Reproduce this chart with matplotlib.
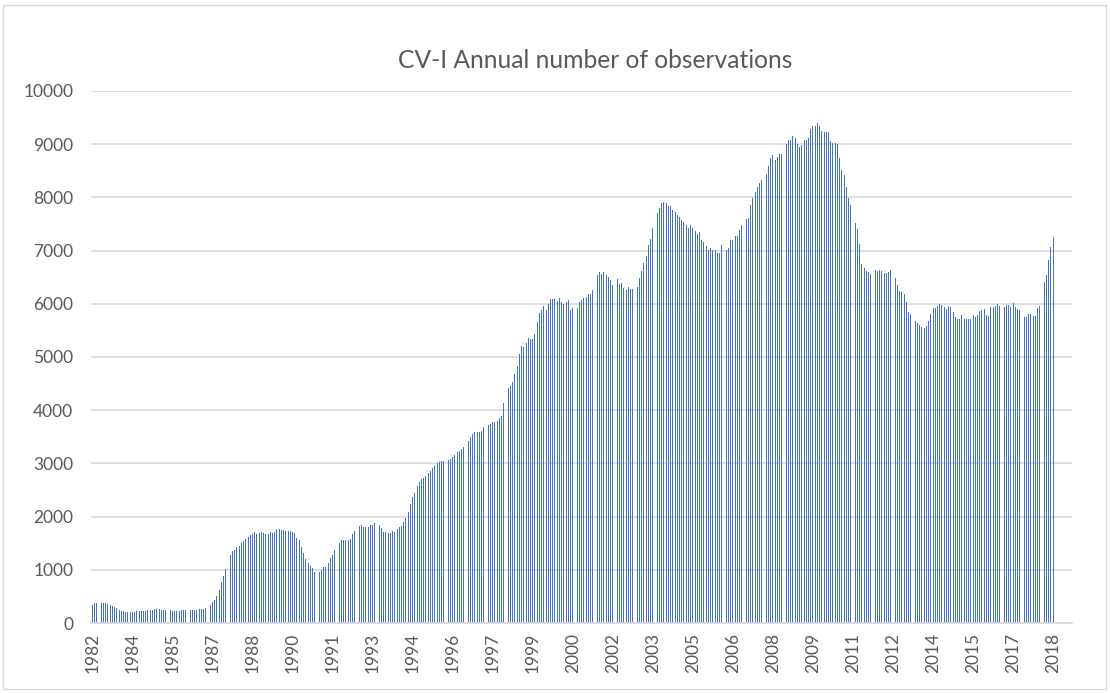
import matplotlib.pyplot as plt
from matplotlib.patches import Rectangle

# rolling annual counts, one value per month starting Dec 1982
counts = [
    340, 370, 370, 370, 370, 370, 370, 356, 343, 320, 300, 275,
    250, 231, 225, 212, 206, 206, 206, 212, 219, 231, 231, 231,
    231, 237, 250, 250, 256, 256, 256, 250, 237, 237, 237, 237,
    231, 231, 225, 231, 237, 237, 237, 244, 250, 250, 250, 250,
    256, 256, 269, 287, 319, 344, 394, 425, 500, 625, 762, 875,
    1019, 1144, 1287, 1350, 1381, 1425, 1450, 1512, 1550, 1575, 1625, 1650,
    1675, 1706, 1675, 1694, 1719, 1700, 1675, 1675, 1719, 1694, 1712, 1769,
    1769, 1750, 1750, 1725, 1725, 1725, 1712, 1700, 1594, 1562, 1437, 1325,
    1200, 1137, 1075, 1031, 962, 937, 962, 987, 1050, 1050, 1125, 1219,
    1281, 1375, 1462, 1512, 1562, 1562, 1562, 1562, 1575, 1669, 1737, 1775,
    1825, 1844, 1806, 1800, 1812, 1837, 1850, 1875, 1875, 1850, 1787, 1712,
    1706, 1700, 1700, 1737, 1719, 1762, 1800, 1825, 1900, 1975, 2094, 2237,
    2362, 2450, 2575, 2656, 2700, 2731, 2762, 2825, 2862, 2906, 2950, 3000,
    3025, 3050, 3050, 3037, 3062, 3087, 3112, 3150, 3212, 3225, 3275, 3312,
    3344, 3412, 3500, 3550, 3587, 3587, 3587, 3612, 3690, 3719, 3731, 3750,
    3769, 3781, 3800, 3850, 3900, 4144, 4331, 4425, 4456, 4525, 4675, 4825,
    5062, 5200, 5187, 5269, 5362, 5337, 5337, 5425, 5656, 5831, 5875, 5962,
    5875, 5987, 6094, 6094, 6094, 6050, 6100, 6037, 6000, 6025, 6062, 5887,
    5925, 5887, 5925, 6025, 6062, 6112, 6125, 6175, 6175, 6250, 6275, 6537,
    6600, 6562, 6600, 6544, 6512, 6450, 6362, 6450, 6469, 6375, 6387, 6300,
    6250, 6312, 6269, 6269, 6237, 6325, 6487, 6612, 6762, 6906, 7112, 7219,
    7425, 7594, 7700, 7800, 7894, 7906, 7894, 7831, 7844, 7769, 7720, 7665,
    7640, 7567, 7536, 7474, 7417, 7474, 7430, 7368, 7305, 7349, 7205, 7162,
    7081, 7019, 7056, 7019, 7006, 6956, 6956, 7100, 7037, 7019, 7056, 7193,
    7205, 7280, 7268, 7380, 7480, 7530, 7592, 7617, 7866, 7991, 8096, 8190,
    8277, 8327, 8389, 8439, 8588, 8738, 8800, 8700, 8750, 8825, 8825, 8950,
    9012, 9087, 9087, 9149, 9124, 9000, 8950, 8987, 9087, 9074, 9112, 9280,
    9349, 9336, 9405, 9349, 9249, 9236, 9236, 9224, 9062, 9025, 9031, 9012,
    8738, 8514, 8420, 8190, 7984, 7866, 7766, 7517, 7405, 7131, 6750, 6680,
    6620, 6600, 6569, 6656, 6644, 6612, 6631, 6625, 6581, 6581, 6600, 6631,
    6612, 6487, 6350, 6244, 6225, 6181, 6037, 5850, 5800, 5694, 5681, 5631,
    5594, 5556, 5537, 5581, 5681, 5800, 5912, 5912, 5956, 5987, 5969, 5931,
    5906, 5950, 5944, 5850, 5756, 5706, 5706, 5787, 5706, 5706, 5706, 5712,
    5787, 5756, 5787, 5862, 5881, 5894, 5787, 5769, 5931, 5931, 5962, 5987,
    5956, 5944, 5944, 5969, 5981, 5944, 6019, 5944, 5894, 5881, 5806, 5744,
    5744, 5806, 5806, 5769, 5775, 5912, 5956, 6162, 6412, 6550, 6831, 7069,
    7256,
]

# axis labels shown every 18 months
tick_labels = ["1982", "1984", "1985", "1987", "1988", "1990", "1991", "1993",
               "1994", "1996", "1997", "1999", "2000", "2002", "2003", "2005",
               "2006", "2008", "2009", "2011", "2012", "2014", "2015", "2017",
               "2018"]
label_step = 18
n_slots = 441  # axis has a few empty month slots after the last bar

plt.rcParams["font.family"] = ["Lato", "DejaVu Sans"]
grey = "#595959"

fig = plt.figure(figsize=(11.1, 6.93), dpi=100)
fig.patches.append(Rectangle((0.003, 0.006), 0.993, 0.987, transform=fig.transFigure,
                             fill=False, edgecolor="#D9D9D9", linewidth=1))
ax = fig.add_axes([0.0822, 0.101, 0.8836, 0.7677])

ax.bar(range(len(counts)), counts, width=0.42, color="#4472C4", linewidth=0, zorder=2)

ax.set_xlim(-0.5, n_slots - 0.5)
ax.set_ylim(0, 10000)
ax.set_yticks(range(0, 10001, 1000))
ax.set_xticks(range(0, label_step * len(tick_labels), label_step))
ax.set_xticklabels(tick_labels, rotation=90)

ax.grid(axis="y", color="#D9D9D9", linewidth=1.2, zorder=0)
ax.set_axisbelow(True)
for s in ["top", "right", "left"]:
    ax.spines[s].set_visible(False)
ax.spines["bottom"].set_color("#D9D9D9")
ax.spines["bottom"].set_linewidth(1.2)
ax.tick_params(axis="both", length=0, colors=grey, labelsize=12.5)
ax.tick_params(axis="y", pad=13)
ax.tick_params(axis="x", pad=7)

fig.text(0.536, 0.913, "CV-I Annual number of observations", ha="center", va="center",
         fontsize=17.7, color=grey)

fig.savefig("out.png", dpi=100)
